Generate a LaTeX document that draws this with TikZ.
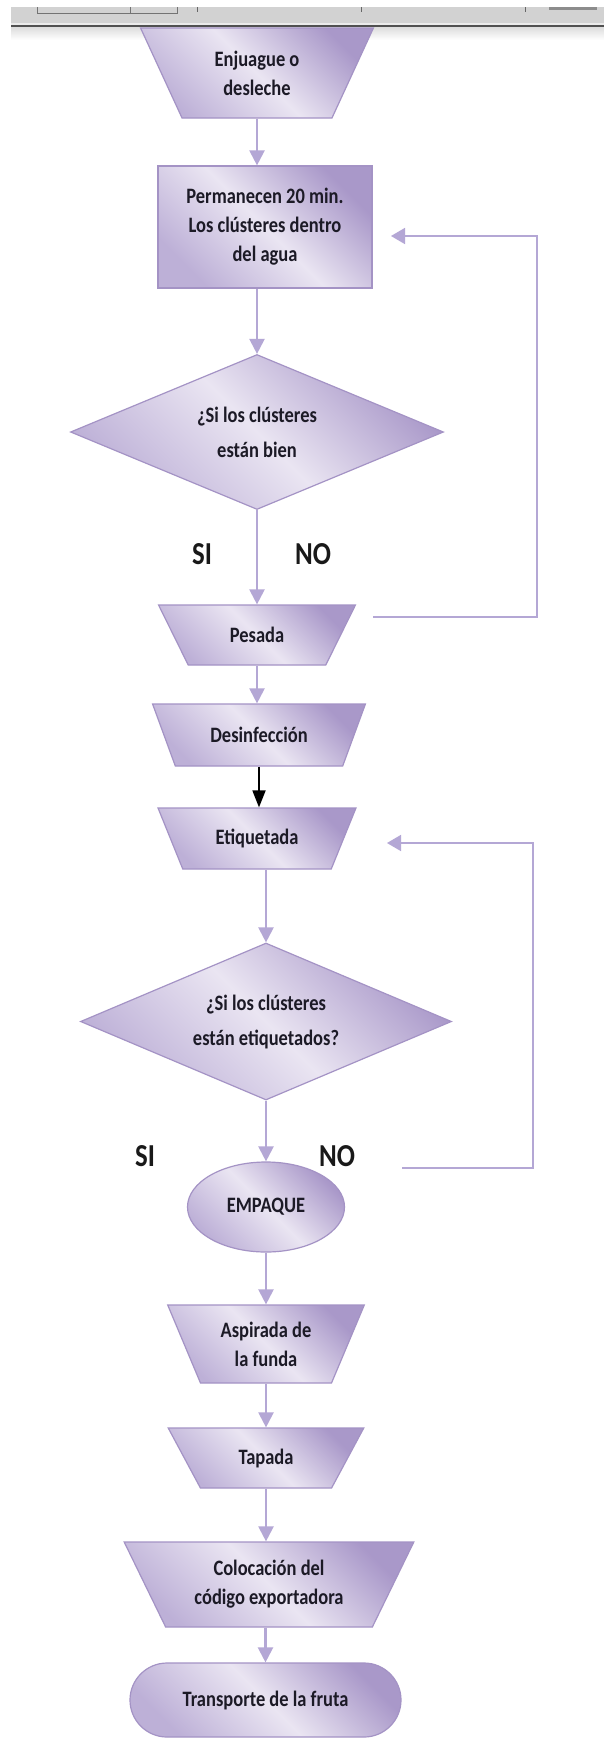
\documentclass[tikz,border=0pt]{standalone}
\usepackage{fontspec}
\setmainfont{Carlito}[FakeStretch=0.84]
\usetikzlibrary{shapes.geometric,shapes.misc,arrows.meta}
\definecolor{shDark}{HTML}{A998C9}
\definecolor{shLight}{HTML}{EAE5F2}
\definecolor{shMid}{HTML}{BDB0D7}
\definecolor{shBorder}{HTML}{A493C5}
\definecolor{flowArrow}{HTML}{B4A7D5}
\definecolor{txt}{HTML}{1C1A26}
\definecolor{barGray}{HTML}{D2D2D2}
\definecolor{barDark}{HTML}{505050}
\begin{document}
\begin{tikzpicture}[x=1pt,y=-1pt,
  shapebase/.style={draw=shBorder, line width=1.2pt, top color=shDark, bottom color=shMid,
    middle color=shLight, shading angle=-45, text=txt,
    font=\bfseries\fontsize{22}{29}\selectfont, align=center, inner sep=2pt},
  trap/.style={shapebase, trapezium, trapezium stretches=true, trapezium angle=#1},
  procbox/.style={shapebase, rectangle},
  decision/.style={shapebase, diamond, aspect=2.4, font=\bfseries\fontsize{22}{35}\selectfont},
  connector/.style={shapebase, ellipse},
  terminal/.style={shapebase, rounded rectangle},
  lbl/.style={font=\bfseries\fontsize{32}{36}\selectfont, text=black!90, inner sep=0pt},
  flow/.style={draw=flowArrow, line width=2.2pt, -{Triangle[width=15pt,length=15pt]}},
  blackflow/.style={draw=black, line width=1.8pt, -{Triangle[width=13pt,length=17pt]}},
  loopline/.style={draw=flowArrow, line width=1.6pt, -{Triangle[width=16pt,length=14pt]}}
]
\useasboundingbox (0,0) rectangle (604,1740);
\fill[white] (0,0) rectangle (604,1740);

% top toolbar strip
\fill[barGray] (11,7) rectangle (604,23);
\fill[black!8] (11,23) rectangle (604,24.8);
\fill[barDark] (11,24.8) rectangle (604,27.5);
\shade[top color=black!13, bottom color=white] (11,27.5) rectangle (604,40);
\draw[black!55, line width=1pt] (37,7) -- (37,13) -- (177,13) -- (177,7);
\draw[black!55, line width=1pt] (130,7) -- (130,13);
\draw[black!60, line width=0.8pt] (197,7) -- (197,12);
\draw[black!60, line width=0.8pt] (361,7) -- (361,12);
\draw[black!60, line width=0.8pt] (525,7) -- (525,12);
\fill[black!45] (549,7) rectangle (597,9.5);

% shapes
\node[trap=116.8, minimum width=233, minimum height=90] (t1) at (257,73) {Enjuague o\\desleche};
\node[procbox, minimum width=214, minimum height=122] (r1) at (265,227) {Permanecen 20 min.\\Los clústeres dentro\\del agua};
\node[decision, minimum width=373, minimum height=155] (d1) at (257,432) {¿Si los clústeres\\están bien};
\node[trap=122.7, minimum width=198, minimum height=60] (pes) at (257,635) {Pesada};
\node[trap=125.1, minimum width=213, minimum height=62] (des) at (259,735) {Desinfección};
\node[trap=122.3, minimum width=198, minimum height=61] (eti) at (257,838.5) {Etiquetada};
\node[decision, minimum width=371, minimum height=157] (d2) at (266,1021.5) {¿Si los clústeres\\están etiquetados?};
\node[connector, minimum width=157, minimum height=90] (emp) at (266,1207) {EMPAQUE};
\node[trap=116, minimum width=197, minimum height=78] (asp) at (266,1344) {Aspirada de\\la funda};
\node[trap=122.3, minimum width=197, minimum height=60] (tap) at (266,1458) {Tapada};
\node[trap=120.5, minimum width=290, minimum height=85] (col) at (269,1584.5) {Colocación del\\código exportadora};
\node[terminal, minimum width=275, minimum height=74] (tra) at (265.5,1700) {Transporte de la fruta};

% labels
\node[lbl] (si1) at (202,554) {SI};
\node[lbl] (no1) at (313,554) {NO};
\node[lbl] (si2) at (145,1156) {SI};
\node[lbl] (no2) at (337,1156) {NO};

% connectors
\draw[flow] (t1.south) -- (t1.south |- r1.north);
\draw[flow] (d1.north |- r1.south) -- (d1.north);
\draw[flow] (d1.south) -- (d1.south |- pes.north);
\draw[flow] (pes.south) -- (pes.south |- des.north);
\draw[blackflow] (des.south) -- (des.south |- eti.north);
\draw[flow] (eti.south -| d2.north) -- (d2.north);
\draw[flow] (d2.south) -- (d2.south |- emp.north);
\draw[flow] (emp.south) -- (emp.south |- asp.north);
\draw[flow] (asp.south) -- (asp.south |- tap.north);
\draw[flow] (tap.south) -- (tap.south |- col.north);
\draw[flow] (col.south -| tra.north) -- (tra.north);

% feedback loops
\coordinate (l1a) at (373,617);
\coordinate (l1b) at (537,236);
\coordinate (l1c) at (391,236);
\draw[loopline] (l1a) -| (l1b) -- (l1c);
\coordinate (l2a) at (402,1168);
\coordinate (l2b) at (533,843);
\coordinate (l2c) at (387,843);
\draw[loopline] (l2a) -| (l2b) -- (l2c);
\end{tikzpicture}
\end{document}
